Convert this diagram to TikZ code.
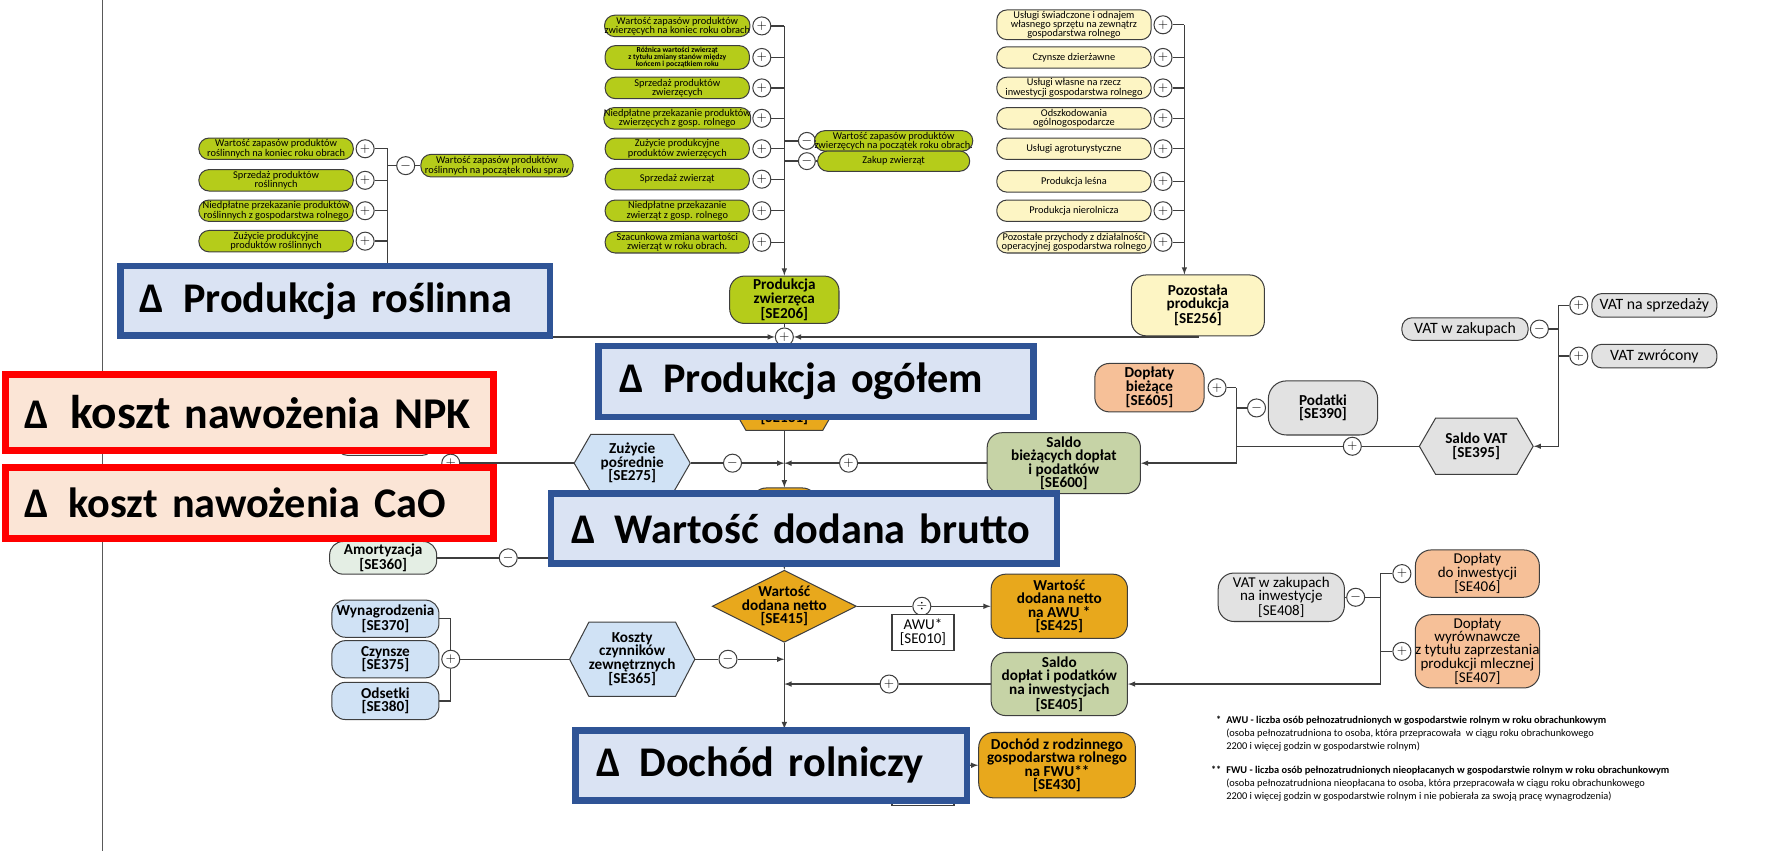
\documentclass[tikz,border=0pt]{standalone}
\usepackage{fontspec}
\setmainfont{Carlito}
\usepackage{tikz}
\usetikzlibrary{shapes.geometric,shapes.symbols,calc,positioning}

\definecolor{limeg}{RGB}{181,204,26}
\definecolor{creamf}{RGB}{253,245,196}
\definecolor{orngf}{RGB}{232,168,28}
\definecolor{peachf}{RGB}{246,192,152}
\definecolor{greyf}{RGB}{226,226,226}
\definecolor{sagef}{RGB}{198,211,166}
\definecolor{skyf}{RGB}{208,226,245}
\definecolor{mintf}{RGB}{228,238,228}
\definecolor{linec}{RGB}{62,62,62}
\definecolor{ovlblue}{RGB}{218,227,243}
\definecolor{ovlbluel}{RGB}{47,84,150}
\definecolor{ovlred}{RGB}{251,229,214}

\newcommand{\smalltxt}{\fontsize{9.2}{8.2}\selectfont}
\newcommand{\tinytxt}{\fontsize{6.8}{6.3}\selectfont\bfseries}
\newcommand{\lbltxt}{\fontsize{13.5}{12}\selectfont\bfseries}
\newcommand{\regtxt}{\fontsize{13.3}{11.8}\selectfont}
\newcommand{\vattxt}{\fontsize{14}{14}\selectfont}
\newcommand{\bigtxt}{\fontsize{37.5}{40}\selectfont\bfseries}
\newcommand{\fntxt}{\fontsize{9.2}{11.5}\selectfont}

\tikzset{
	box/.style={draw=linec, line width=0.9pt, align=center, inner sep=1pt},
	pill/.style={box, rounded corners=9pt, minimum height=19pt, inner xsep=0pt, font=\smalltxt},
	sebox/.style={box, rounded corners=13pt, font=\lbltxt},
	hexbox/.style={box, signal, signal to=east and west, signal pointer angle=120, inner sep=0pt, font=\lbltxt},
	sign/.style={circle, draw=linec, line width=0.9pt, fill=white, minimum size=16pt, inner sep=0pt, font=\fontsize{12}{12}\selectfont},
	trans/.style={draw=linec, line width=1.2pt},
	arr/.style={trans, ->},
	bluebox/.style={draw=ovlbluel, fill=ovlblue, line width=6pt, align=left, font=\bigtxt, inner ysep=0pt},
	redbox/.style={bluebox, draw=red, fill=ovlred},
	>=latex
}

\begin{document}
\begin{tikzpicture}[x=1pt,y=-1pt]
	\newcommand{\roslx}{344}
	\newcommand{\mainx}{696}
	\newcommand{\pozx}{1051}
	\useasboundingbox (0,0) rectangle (1568,755);
	\draw[draw=gray!70!black, line width=0.8pt] (91,0) -- (91,755);

	% produkcja roslinna
	\node[pill, fill=limeg, minimum width=137pt] (r1) at (245,132) {Wartość zapasów produktów\\roślinnych na koniec roku obrach};
	\node[pill, fill=limeg, minimum width=137pt] (r2) at (245,160) {Sprzedaż produktów\\roślinnych};
	\node[pill, fill=limeg, minimum width=137pt] (r3) at (245,187) {Niedpłatne przekazanie produktów\\roślinnych z gospodarstwa rolnego};
	\node[pill, fill=limeg, minimum width=137pt] (r4) at (245,214) {Zużycie produkcyjne\\produktów roślinnych};
	\node[sign] (r1p) at (324,132) {$+$};
	\node[sign] (r2p) at (324,160) {$+$};
	\node[sign] (r3p) at (324,187) {$+$};
	\node[sign] (r4p) at (324,214) {$+$};
	\node[sign] (r5m) at (360,147) {$-$};
	\node[pill, fill=limeg, minimum width=135pt, minimum height=20pt] (r5) at (441,147) {Wartość zapasów produktów\\roślinnych na początek roku spraw};
	\coordinate (rbtop) at (\roslx,132);
	\coordinate (rbbot) at (\roslx,299);

	% produkcja zwierzeca
	\node[pill, fill=limeg, minimum width=128pt] (z1) at (601,23) {Wartość zapasów produktów\\zwierzęcych na koniec roku obrach};
	\node[pill, fill=limeg, minimum width=128pt, minimum height=21pt, font=\tinytxt] (z2) at (601,51) {Różnica wartości zwierząt\\z tytułu zmiany stanów między\\końcem i początkiem roku};
	\node[pill, fill=limeg, minimum width=128pt] (z3) at (601,78) {Sprzedaż produktów\\zwierzęcych};
	\node[pill, fill=limeg, minimum width=128pt] (z4) at (601,105) {Niedpłatne przekazanie produktów\\zwierzęcych z gosp. rolnego};
	\node[pill, fill=limeg, minimum width=128pt] (z5) at (601,132) {Zużycie produkcyjne\\produktów zwierzęcych};
	\node[pill, fill=limeg, minimum width=128pt] (z6) at (601,159) {Sprzedaż zwierząt};
	\node[pill, fill=limeg, minimum width=128pt] (z7) at (601,187) {Niedpłatne przekazanie\\zwierząt z gosp. rolnego};
	\node[pill, fill=limeg, minimum width=128pt] (z8) at (601,215) {Szacunkowa zmiana wartości\\zwierząt w roku obrach.};
	\node[sign] (z1p) at (676,23) {$+$};
	\node[sign] (z2p) at (676,51) {$+$};
	\node[sign] (z3p) at (676,78) {$+$};
	\node[sign] (z4p) at (676,105) {$+$};
	\node[sign] (z5p) at (676,132) {$+$};
	\node[sign] (z6p) at (676,159) {$+$};
	\node[sign] (z7p) at (676,187) {$+$};
	\node[sign] (z8p) at (676,215) {$+$};
	\node[sign, minimum size=15pt] (z9m) at (716,125) {$-$};
	\node[sign, minimum size=15pt] (z10m) at (716,143) {$-$};
	\node[pill, fill=limeg, minimum width=135pt, minimum height=18pt, inner ysep=0pt] (z9) at (793,125) {Wartość zapasów produktów\\zwierzęcych na początek roku obrach.};
	\node[pill, fill=limeg, minimum width=135pt, minimum height=18pt, inner ysep=0pt] (z10) at (793,143) {Zakup zwierząt};
	\coordinate (zbtop) at (\mainx,23);
	\node[sebox, fill=limeg, minimum width=97pt, minimum height=42pt] (prodzw) at (\mainx,266) {Produkcja\\zwierzęca\\{[SE206]}};

	% pozostala produkcja
	\node[pill, fill=creamf, minimum width=137pt, minimum height=26pt] (o1) at (953,22) {Usługi świadczone i odnajem\\własnego sprzętu na zewnątrz\\gospodarstwa rolnego};
	\node[pill, fill=creamf, minimum width=137pt] (o2) at (953,51) {Czynsze dzierżawne};
	\node[pill, fill=creamf, minimum width=137pt] (o3) at (953,78) {Usługi własne na rzecz\\inwestycji gospodarstwa rolnego};
	\node[pill, fill=creamf, minimum width=137pt] (o4) at (953,105) {Odszkodowania\\ogólnogospodarcze};
	\node[pill, fill=creamf, minimum width=137pt] (o5) at (953,132) {Usługi agroturystyczne};
	\node[pill, fill=creamf, minimum width=137pt] (o6) at (953,161) {Produkcja leśna};
	\node[pill, fill=creamf, minimum width=137pt] (o7) at (953,187) {Produkcja nierolnicza};
	\node[pill, fill=creamf, minimum width=137pt] (o8) at (953,215) {Pozostałe przychody z działalności\\operacyjnej gospodarstwa rolnego};
	\node[sign] (o1p) at (1032,22) {$+$};
	\node[sign] (o2p) at (1032,51) {$+$};
	\node[sign] (o3p) at (1032,78) {$+$};
	\node[sign] (o4p) at (1032,105) {$+$};
	\node[sign] (o5p) at (1032,132) {$+$};
	\node[sign] (o6p) at (1032,161) {$+$};
	\node[sign] (o7p) at (1032,187) {$+$};
	\node[sign] (o8p) at (1032,215) {$+$};
	\coordinate (obtop) at (\pozx,22);
	\node[sebox, fill=creamf, minimum width=118pt, minimum height=54pt] (pozost) at (1063,271) {Pozostała\\produkcja\\{[SE256]}};

	% os glowna
	\node[sign] (prodp) at (\mainx,299) {$+$};
	\node[hexbox, fill=orngf, minimum width=105pt, minimum height=64pt] (ogolhex) at (\mainx,350) {};
	\node[font=\lbltxt, inner sep=0pt] (ogoltxt) at (\mainx,371) {[SE131]};
	\node[sebox, fill=orngf, minimum width=58pt, minimum height=46pt] (wdb) at (\mainx,456) {};
	\coordinate (jz) at (\mainx,411);
	\node[box, fill=white, rounded corners=9pt, minimum width=85pt, minimum height=32pt] (hidbox) at (341.5,388) {};
	\node[sign] (zuzp) at (400,411) {$+$};
	\node[hexbox, fill=skyf, minimum width=103pt, minimum height=51pt] (zuzy) at (561,411) {Zużycie\\pośrednie\\{[SE275]}};
	\node[sign] (zuzm) at (650,411) {$-$};
	\node[sebox, fill=sagef, minimum width=136pt, minimum height=54pt, inner sep=0pt] (saldob) at (944,411) {Saldo\\bieżących dopłat\\i podatków\\{[SE600]}};
	\node[sign] (saldobp) at (753,411) {$+$};

	% doplaty i podatki biezace
	\node[sebox, fill=peachf, minimum width=97pt, minimum height=43pt] (dbz) at (1020,344) {Dopłaty\\bieżące\\{[SE605]}};
	\node[sign] (dbzp) at (1080,344) {$+$};
	\node[sebox, fill=greyf, minimum width=97pt, minimum height=48pt, rounded corners=16pt] (pod) at (1174,362) {Podatki\\{[SE390]}};
	\node[sign] (podm) at (1115,362) {$-$};
	\coordinate (bb1) at (1097,344);
	\coordinate (bb3) at (1097,411);
	\node[hexbox, fill=greyf, minimum width=101pt, minimum height=50pt] (saldovat) at (1310,396) {Saldo VAT\\{[SE395]}};
	\node[sign] (svp) at (1200,396) {$+$};
	\node[pill, fill=greyf, minimum width=112pt, minimum height=20pt, font=\vattxt] (vatz) at (1300,292) {VAT w zakupach};
	\node[sign] (vzm) at (1366,292) {$-$};
	\node[pill, fill=greyf, minimum width=111pt, minimum height=21pt, font=\vattxt] (vsp) at (1468,271) {VAT na sprzedaży};
	\node[sign] (vspp) at (1401,271) {$+$};
	\node[pill, fill=greyf, minimum width=111pt, minimum height=21pt, font=\vattxt] (vzw) at (1468,316) {VAT zwrócony};
	\node[sign] (vzwp) at (1401,316) {$+$};
	\coordinate (vb1) at (1383,271);
	\coordinate (vb2) at (1383,396);

	% wartosc dodana netto
	\node[box, fill=mintf, rounded corners=12pt, minimum width=95pt, minimum height=29pt, font=\lbltxt] (amort) at (340,495) {Amortyzacja\\{[SE360]}};
	\node[sign] (amortm) at (451,495) {$-$};
	\coordinate (ja) at (\mainx,495);
	\node[box, diamond, aspect=2, fill=orngf, inner xsep=-5pt, inner ysep=-2pt, font=\lbltxt] (wdn) at (\mainx,538) {Wartość\\dodana netto\\{[SE415]}};
	\node[sign] (divp) at (818,538) {$\div$};
	\node[box, fill=white, minimum width=55pt, minimum height=32pt, font=\regtxt, line width=1.2pt] (awu) at (819,561) {AWU*\\{[SE010]}};
	\node[sebox, fill=orngf, minimum width=121pt, minimum height=57pt] (wdnawu) at (940,538) {Wartość\\dodana netto\\na AWU *\\{[SE425]}};

	% koszty czynnikow zewnetrznych
	\node[sebox, fill=skyf, minimum width=95pt, minimum height=33pt, rounded corners=12pt] (wyn) at (342,549) {Wynagrodzenia\\{[SE370]}};
	\node[sebox, fill=skyf, minimum width=95pt, minimum height=33pt, rounded corners=12pt] (czy) at (342,585) {Czynsze\\{[SE375]}};
	\node[sebox, fill=skyf, minimum width=95pt, minimum height=33pt, rounded corners=12pt] (ods) at (342,622) {Odsetki\\{[SE380]}};
	\node[sign] (kplus) at (400,585) {$+$};
	\node[hexbox, fill=skyf, minimum width=102pt, minimum height=66pt, signal pointer angle=125] (koszty) at (561,585) {Koszty\\czynników\\zewnętrznych\\{[SE365]}};
	\node[sign] (kminus) at (646,585) {$-$};
	\coordinate (jk) at (\mainx,585);

	% doplaty do inwestycji
	\node[sebox, fill=sagef, minimum width=121pt, minimum height=56pt, inner sep=0pt] (saldoinw) at (940,607) {Saldo\\dopłat i podatków\\na inwestycjach\\{[SE405]}};
	\node[sign] (sip) at (789,607) {$+$};
	\coordinate (js) at (\mainx,607);
	\node[box, fill=greyf, rounded corners=14pt, minimum width=112pt, minimum height=43pt, font=\regtxt] (vatinw) at (1137,530) {VAT w zakupach\\na inwestycje\\{[SE408]}};
	\node[sign] (vm) at (1203,530) {$-$};
	\node[box, fill=peachf, rounded corners=14pt, minimum width=110pt, minimum height=42pt, font=\regtxt] (dpi) at (1311,509) {Dopłaty\\do inwestycji\\{[SE406]}};
	\node[sign] (dpip) at (1244,509) {$+$};
	\node[box, fill=peachf, rounded corners=14pt, minimum width=110pt, minimum height=65pt, inner sep=0pt, font=\regtxt] (dpw) at (1311,578) {Dopłaty\\wyrównawcze\\z tytułu zaprzestania\\produkcji mlecznej\\{[SE407]}};
	\node[sign] (dpwp) at (1244,578) {$+$};
	\coordinate (ib1) at (1225,509);
	\coordinate (ib2) at (1225,607);

	% dochod
	\coordinate (dtop) at (\mainx,647);
	\node[box, fill=white, minimum width=55pt, minimum height=26pt, line width=1.2pt] (fwu) at (819,702) {};
	\coordinate (jd) at (800,680);
	\node[sebox, fill=orngf, minimum width=139pt, minimum height=58pt] (dochfwu) at (938,679) {Dochód z rodzinnego\\gospodarstwa rolnego\\na FWU**\\{[SE430]}};

	% przypisy
	\node[anchor=north west, align=left, inner sep=0pt, font=\fntxt] (fn1) at (1088,635) {\textbf{AWU - liczba osób pełnozatrudnionych w gospodarstwie rolnym w roku obrachunkowym}\\(osoba pełnozatrudniona to osoba, która przepracowała~ w ciągu roku obrachunkowego\\2200 i więcej godzin w gospodarstwie rolnym)};
	\node[anchor=north west, align=left, inner sep=0pt, font=\fntxt] (fn2) at (1088,680) {\textbf{FWU - liczba osób pełnozatrudnionych nieopłacanych w gospodarstwie rolnym w roku obrachunkowym}\\(osoba pełnozatrudniona nieopłacana to osoba, która przepracowała w ciągu roku obrachunkowego\\2200 i więcej godzin w gospodarstwie rolnym i nie pobierała za swoją pracę wynagrodzenia)};
	\node[anchor=north east, inner sep=0pt, font=\fntxt\bfseries] (st1) at ([xshift=-4pt]fn1.north west) {*};
	\node[anchor=north east, inner sep=0pt, font=\fntxt\bfseries] (st2) at ([xshift=-4pt]fn2.north west) {**};

	% polaczenia
	\path[trans] (r1p.east) -- (rbtop) -- (rbbot);
	\path[arr] (rbbot) -- (prodp.west);
	\path[trans] (r2p.east) -- (r2p.east -| rbtop);
	\path[trans] (r3p.east) -- (r3p.east -| rbtop);
	\path[trans] (r4p.east) -- (r4p.east -| rbtop);
	\path[trans] (r5m.west) -- (r5m.west -| rbtop);
	\path[trans] (r5m.east) -- (r5.west);
	\path[trans] (z1p.east) -- (zbtop);
	\path[arr] (zbtop) -- (prodzw.north);
	\foreach \s in {z2p,z3p,z4p,z5p,z6p,z7p,z8p}
		\path[trans] (\s.east) -- (\s.east -| zbtop);
	\path[trans] (z9m.west) -- (z9m.west -| zbtop);
	\path[trans] (z10m.west) -- (z10m.west -| zbtop);
	\path[trans] (z9m.east) -- (z9.west);
	\path[trans] (z10m.east) -- (z10.west);
	\path[trans] (o1p.east) -- (obtop);
	\path[arr] (obtop) -- (obtop |- pozost.north);
	\foreach \s in {o2p,o3p,o4p,o5p,o6p,o7p,o8p}
		\path[trans] (\s.east) -- (\s.east -| obtop);
	\path[trans] (prodzw.south) -- (prodp.north);
	\path[arr] (pozost.south) |- (prodp.east);
	\path[arr] (prodp.south) -- (ogolhex.north);
	\path[arr] (ogolhex.south) -- (wdb.north);
	\path[trans] (hidbox.east) -| (zuzp.north);
	\path[trans] (zuzp.east) -- (zuzy.west);
	\path[trans] (zuzy.east) -- (zuzm.west);
	\path[arr] (zuzm.east) -- (jz);
	\path[trans] (saldob.west) -- (saldobp.east);
	\path[arr] (saldobp.west) -- (jz);
	\path[trans] (dbzp.east) -- (bb1);
	\path[trans] (podm.west) -- (podm.west -| bb1);
	\path[trans] (saldovat.west) -- (svp.east);
	\path[trans] (svp.west) -- (svp.west -| bb1);
	\path[arr] (bb1) -- (bb3) -- (saldob.east);
	\path[trans] (vspp.west) -- (vb1);
	\path[trans] (vzwp.west) -- (vzwp.west -| vb1);
	\path[trans] (vzm.east) -- (vzm.east -| vb1);
	\path[arr] (vb1) -- (vb2) -- (saldovat.east);
	\path[trans] (amort.east) -- (amortm.west);
	\path[arr] (amortm.east) -- (ja);
	\path[arr] (wdb.south) -- (wdn.north);
	\path[trans] (wdn.east) -- (divp.west);
	\path[arr] (divp.east) -- (wdnawu.west);
	\path[trans] (wyn.east) -| (kplus.north);
	\path[trans] (ods.east) -| (kplus.south);
	\path[trans] (kplus.east) -- (koszty.west);
	\path[trans] (koszty.east) -- (kminus.west);
	\path[arr] (kminus.east) -- (jk);
	\path[trans] (saldoinw.west) -- (sip.east);
	\path[arr] (sip.west) -- (js);
	\path[trans] (dpip.west) -- (ib1);
	\path[trans] (dpwp.west) -- (dpwp.west -| ib1);
	\path[trans] (vatinw.east) -- (vm.west);
	\path[trans] (vm.east) -- (vm.east -| ib1);
	\path[arr] (ib1) -- (ib2) -- (saldoinw.east);
	\path[arr] (wdn.south) -- (dtop);
	\path[arr] (jd) -- (dochfwu.west);

	% nakladki
	\node[bluebox, text width=347pt, inner xsep=17pt, minimum height=62pt] (rosl) at (297.5,267) {Δ\hspace{0.45em}Produkcja roślinna};
	\node[bluebox, text width=348pt, inner xsep=19pt, minimum height=63pt] (ogolem) at (724,338.5) {Δ\hspace{0.45em}Produkcja ogółem};
	\node[redbox, text width=399pt, inner xsep=17pt, minimum height=68pt] (npk) at (221.5,366) {Δ\hspace{0.5em}{\fontsize{42}{44}\selectfont koszt} {\fontsize{39}{44}\selectfont nawożenia NPK}};
	\node[redbox, text width=399pt, inner xsep=17pt, minimum height=63pt] (cao) at (221.5,446.5) {Δ\hspace{0.45em}koszt nawożenia CaO};
	\node[bluebox, text width=413pt, inner xsep=18pt, minimum height=62pt] (brutto) at (713.5,469) {Δ\hspace{0.45em}Wartość dodana brutto};
	\node[bluebox, text width=311pt, inner xsep=18pt, minimum height=62pt] (dochod) at (684.5,679) {Δ\hspace{0.45em}Dochód rolniczy};
\end{tikzpicture}
\end{document}
